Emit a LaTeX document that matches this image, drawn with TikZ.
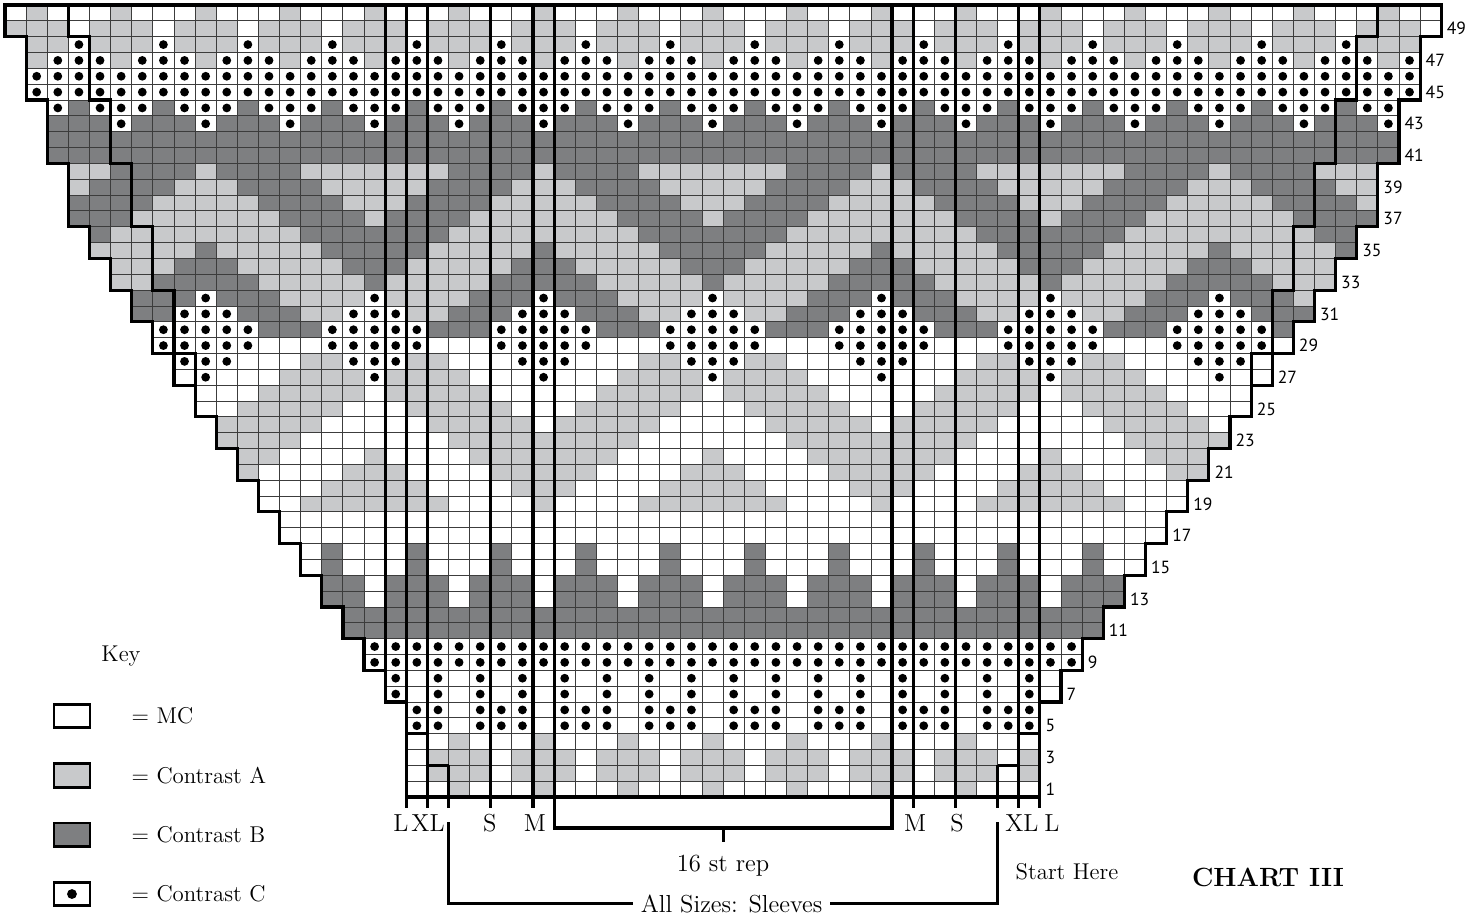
\documentclass[tikz,border=0pt]{standalone}
\usepackage{fontspec}
\newfontfamily\numfont{PT Sans}
\usetikzlibrary{positioning}
\definecolor{conA}{RGB}{200,201,203}
\definecolor{conB}{RGB}{126,127,129}
\definecolor{gridline}{RGB}{60,60,60}
\tikzset{
  cell/.style={draw=gridline,line width=0.5pt},
  heavy/.style={draw=black,line width=1.8pt},
  rownum/.style={font=\numfont\fontsize{10}{10}\selectfont,anchor=west,inner sep=0pt},
  lab/.style={font=\fontsize{14}{16}\selectfont,inner sep=1pt},
  keybox/.style={draw=black,line width=1.6pt,fill=#1,minimum width=0.72cm,minimum height=0.47cm,inner sep=0pt},
  keybox/.default=white,
  keytxt/.style={font=\fontsize{13}{15}\selectfont,inner sep=0pt},
}
% 0 = MC, 1 = Contrast A, 2 = Contrast B, 3 = Contrast C (dot)
\def\pSingleA{{0,1,0,0,0,1,0,0,0,1,0,0,0,1,0,0}}
\def\pGapA{{1,1,1,0,1,1,1,0,1,1,1,0,1,1,1,0}}
\def\pDotGap{{3,0,3,3,3,0,3,3,3,0,3,3,3,0,3,3}}
\def\pDotAlt{{3,0,3,0,3,0,3,0,3,0,3,0,3,0,3,0}}
\def\pDots{{3,3,3,3,3,3,3,3,3,3,3,3,3,3,3,3}}
\def\pDark{{2,2,2,2,2,2,2,2,2,2,2,2,2,2,2,2}}
\def\pDarkGap{{2,0,2,2,2,0,2,2,2,0,2,2,2,0,2,2}}
\def\pWhiteB{{0,0,0,2,0,0,0,2,0,0,0,2,0,0,0,2}}
\def\pWhite{{0,0,0,0,0,0,0,0,0,0,0,0,0,0,0,0}}
\def\pxix{{1,1,1,1,1,0,0,0,0,1,0,0,0,0,1,1}}
\def\pxx{{1,1,1,1,0,0,0,0,1,1,1,0,0,0,0,1}}
\def\pxxi{{1,1,1,0,0,0,0,1,1,1,1,1,0,0,0,0}}
\def\pxxii{{0,1,0,0,0,0,1,1,1,1,1,1,1,0,0,0}}
\def\pxxiii{{0,0,0,0,0,1,1,1,1,1,1,1,1,1,0,0}}
\def\pxxiv{{0,0,0,0,1,1,1,1,1,0,1,1,1,1,1,0}}
\def\pxxv{{0,0,0,1,1,1,1,1,0,0,0,1,1,1,1,1}}
\def\pxxvi{{1,0,1,1,1,1,1,0,0,0,0,0,1,1,1,1}}
\def\pxxvii{{1,3,1,1,1,1,0,0,0,3,0,0,0,1,1,1}}
\def\pxxviii{{3,3,3,1,1,0,0,0,3,3,3,0,0,0,1,1}}
\def\pxxix{{3,3,3,3,0,0,0,3,3,3,3,3,0,0,0,3}}
\def\pxxx{{3,3,3,3,2,2,2,3,3,3,3,3,2,2,2,3}}
\def\pxxxi{{3,3,3,1,1,2,2,2,3,3,3,2,2,2,1,1}}
\def\pxxxii{{1,3,1,1,1,1,2,2,2,3,2,2,2,1,1,1}}
\def\pxxxiii{{1,2,1,1,1,1,1,2,2,2,2,2,1,1,1,1}}
\def\pxxxiv{{2,2,2,1,1,1,1,1,2,2,2,1,1,1,1,1}}
\def\pxxxv{{2,2,2,2,1,1,1,1,1,2,1,1,1,1,1,2}}
\def\pxxxvi{{2,2,2,2,2,1,1,1,1,1,1,1,1,1,2,2}}
\def\pxxxvii{{2,1,2,2,2,2,1,1,1,1,1,1,1,2,2,2}}
\def\pxxxviii{{1,1,1,2,2,2,2,1,1,1,1,1,2,2,2,2}}
\def\pxxxix{{1,1,1,1,2,2,2,2,1,1,1,2,2,2,2,1}}
\def\pxl{{1,1,1,1,1,2,2,2,2,1,2,2,2,2,1,1}}
\def\pDarkDot{{2,3,2,2,2,3,2,2,2,3,2,2,2,3,2,2}}
\def\pDotB{{3,3,3,2,3,3,3,2,3,3,3,2,3,3,3,2}}
\def\pDotA{{3,1,3,3,3,1,3,3,3,1,3,3,3,1,3,3}}
\def\pADot{{1,1,1,3,1,1,1,3,1,1,1,3,1,1,1,3}}

\begin{document}
\begin{tikzpicture}[x=0.4224cm,y=0.3168cm]
\useasboundingbox (-0.237,-7.576) rectangle (69.98,50.316);

% chart cells, row / first stitch / pattern
\foreach \r/\l/\pat in {
  1/19/\pSingleA, 2/19/\pGapA, 3/19/\pGapA, 4/19/\pSingleA,
  5/19/\pDotGap, 6/19/\pDotGap, 7/18/\pDotAlt, 8/18/\pDotAlt,
  9/17/\pDots, 10/17/\pDots, 11/16/\pDark, 12/16/\pDark,
  13/15/\pDarkGap, 14/15/\pDarkGap, 15/14/\pWhiteB, 16/14/\pWhiteB,
  17/13/\pWhite, 18/13/\pWhite, 19/12/\pxix, 20/12/\pxx,
  21/11/\pxxi, 22/11/\pxxii, 23/10/\pxxiii, 24/10/\pxxiv,
  25/9/\pxxv, 26/9/\pxxvi, 27/8/\pxxvii, 28/8/\pxxviii,
  29/7/\pxxix, 30/7/\pxxx, 31/6/\pxxxi, 32/6/\pxxxii,
  33/5/\pxxxiii, 34/5/\pxxxiv, 35/4/\pxxxv, 36/4/\pxxxvi,
  37/3/\pxxxvii, 38/3/\pxxxviii, 39/3/\pxxxix, 40/3/\pxl,
  41/2/\pDark, 42/2/\pDark, 43/2/\pDarkDot, 44/2/\pDotB,
  45/1/\pDots, 46/1/\pDots, 47/1/\pDotA, 48/1/\pADot,
  49/0/\pGapA, 50/0/\pSingleA}{
  \pgfmathtruncatemacro\rr{67-\l}
  \foreach \c in {\l,...,\rr}{
    \pgfmathtruncatemacro\k{\pat[mod(\c,16)]}
    \ifcase\k
      \filldraw[cell,fill=white] (\c,\r-1) rectangle ++(1,1);
    \or
      \filldraw[cell,fill=conA] (\c,\r-1) rectangle ++(1,1);
    \or
      \filldraw[cell,fill=conB] (\c,\r-1) rectangle ++(1,1);
    \or
      \filldraw[cell,fill=white] (\c,\r-1) rectangle ++(1,1);
      \fill (\c+0.5,\r-0.5) circle[radius=2.5pt];
    \fi
  }
}

% outline
\draw[heavy] (19,0) |- (18,6) |- (17,8) |- (16,10) |- (15,12) |- (14,14) |- (13,16)
  |- (12,18) |- (11,20) |- (10,22) |- (9,24) |- (8,26) |- (7,28) |- (6,30) |- (5,32)
  |- (4,34) |- (3,36) |- (2,40) |- (1,44) |- (0,48) -- (0,50) -- (68,50) -- (68,48)
  -| (67,44) -| (66,40) -| (65,36) -| (64,34) -| (63,32) -| (62,30) -| (61,28)
  -| (60,26) -| (59,24) -| (58,22) -| (57,20) -| (56,18) -| (55,16) -| (54,14)
  -| (53,12) -| (52,10) -| (51,8) -| (50,6) -| (49,0) -- cycle;
\draw[heavy] (3,50) |- (4,48) |- (5,44) |- (6,40) |- (7,36) |- (8,32) |- (9,28) -- (9,26);
\draw[heavy] (65,50) |- (64,48) |- (63,44) |- (62,40) |- (61,36) |- (60,32) |- (59,28) -- (59,26);

% size lines and ticks
\draw[heavy] (18,50) -- (18,6);
\foreach \x in {19,20,23,25,43,45,48,49}
  \draw[heavy] (\x,50) -- (\x,-0.7);
\foreach \x in {21,47}
  \draw[heavy] (\x,2) -- (\x,-0.7);
\draw[heavy] (19,4) -- (20,4) (20,2) -- (21,2);
\draw[heavy] (49,4) -- (48,4) (48,2) -- (47,2);

% 16 st rep bracket
\coordinate (repmid) at (34,-1.96);
\draw[heavy] (26,50) -- (26,-1.96) -- (42,-1.96) -- (42,50);
\draw[heavy] (repmid) -- ++(0,-0.9);
\node[lab] (rep) at (34,-4.36) {16 st rep};

% sizes
\node[lab] (sL) at (18.75,-1.64) {L};
\node[lab] (sXL) at (20.03,-1.64) {XL};
\node[lab] (sS) at (22.96,-1.64) {S};
\node[lab] (sM) at (25.09,-1.64) {M};
\node[lab] (sM2) at (43.09,-1.64) {M};
\node[lab] (sS2) at (45.08,-1.64) {S};
\node[lab] (sXL2) at (48.15,-1.64) {XL};
\node[lab] (sL2) at (49.57,-1.64) {L};

\node[lab,inner sep=4pt] (allsz) at (34.4,-6.72) {All Sizes: Sleeves};
\draw[heavy] (21,-1.58) |- (allsz.west);
\draw[heavy] (47,-1.58) |- (allsz.east);

\node[lab,font=\fontsize{13}{15}\selectfont] (start) at (50.28,-4.73) {Start Here};
\node[lab,font=\fontsize{15}{17}\selectfont\bfseries] (title) at (59.8,-5.05) {CHART III};

% row numbers
\foreach \r/\l in {1/19,3/19,5/19,7/18,9/17,11/16,13/15,15/14,17/13,19/12,21/11,
  23/10,25/9,27/8,29/7,31/6,33/5,35/4,37/3,39/3,41/2,43/2,45/1,47/1,49/0}
  \node[rownum] (n\r) at (68-\l+0.25,\r-0.5) {\r};

% key
\node[keytxt] (key) at (5.49,8.9) {Key};
\node[keybox] (kMC) at (3.17,5.11) {};
\node[keybox=conA,below=0.66cm of kMC] (kA) {};
\node[keybox=conB,below=0.66cm of kA] (kB) {};
\node[keybox,below=0.66cm of kB] (kC) {};
\fill (kC.center) circle[radius=2.8pt];
\node[keytxt,right=0.8cm of kMC] (tMC) {= MC};
\node[keytxt,right=0.8cm of kA] (tA) {= Contrast A};
\node[keytxt,right=0.8cm of kB] (tB) {= Contrast B};
\node[keytxt,right=0.8cm of kC] (tC) {= Contrast C};
\end{tikzpicture}
\end{document}
